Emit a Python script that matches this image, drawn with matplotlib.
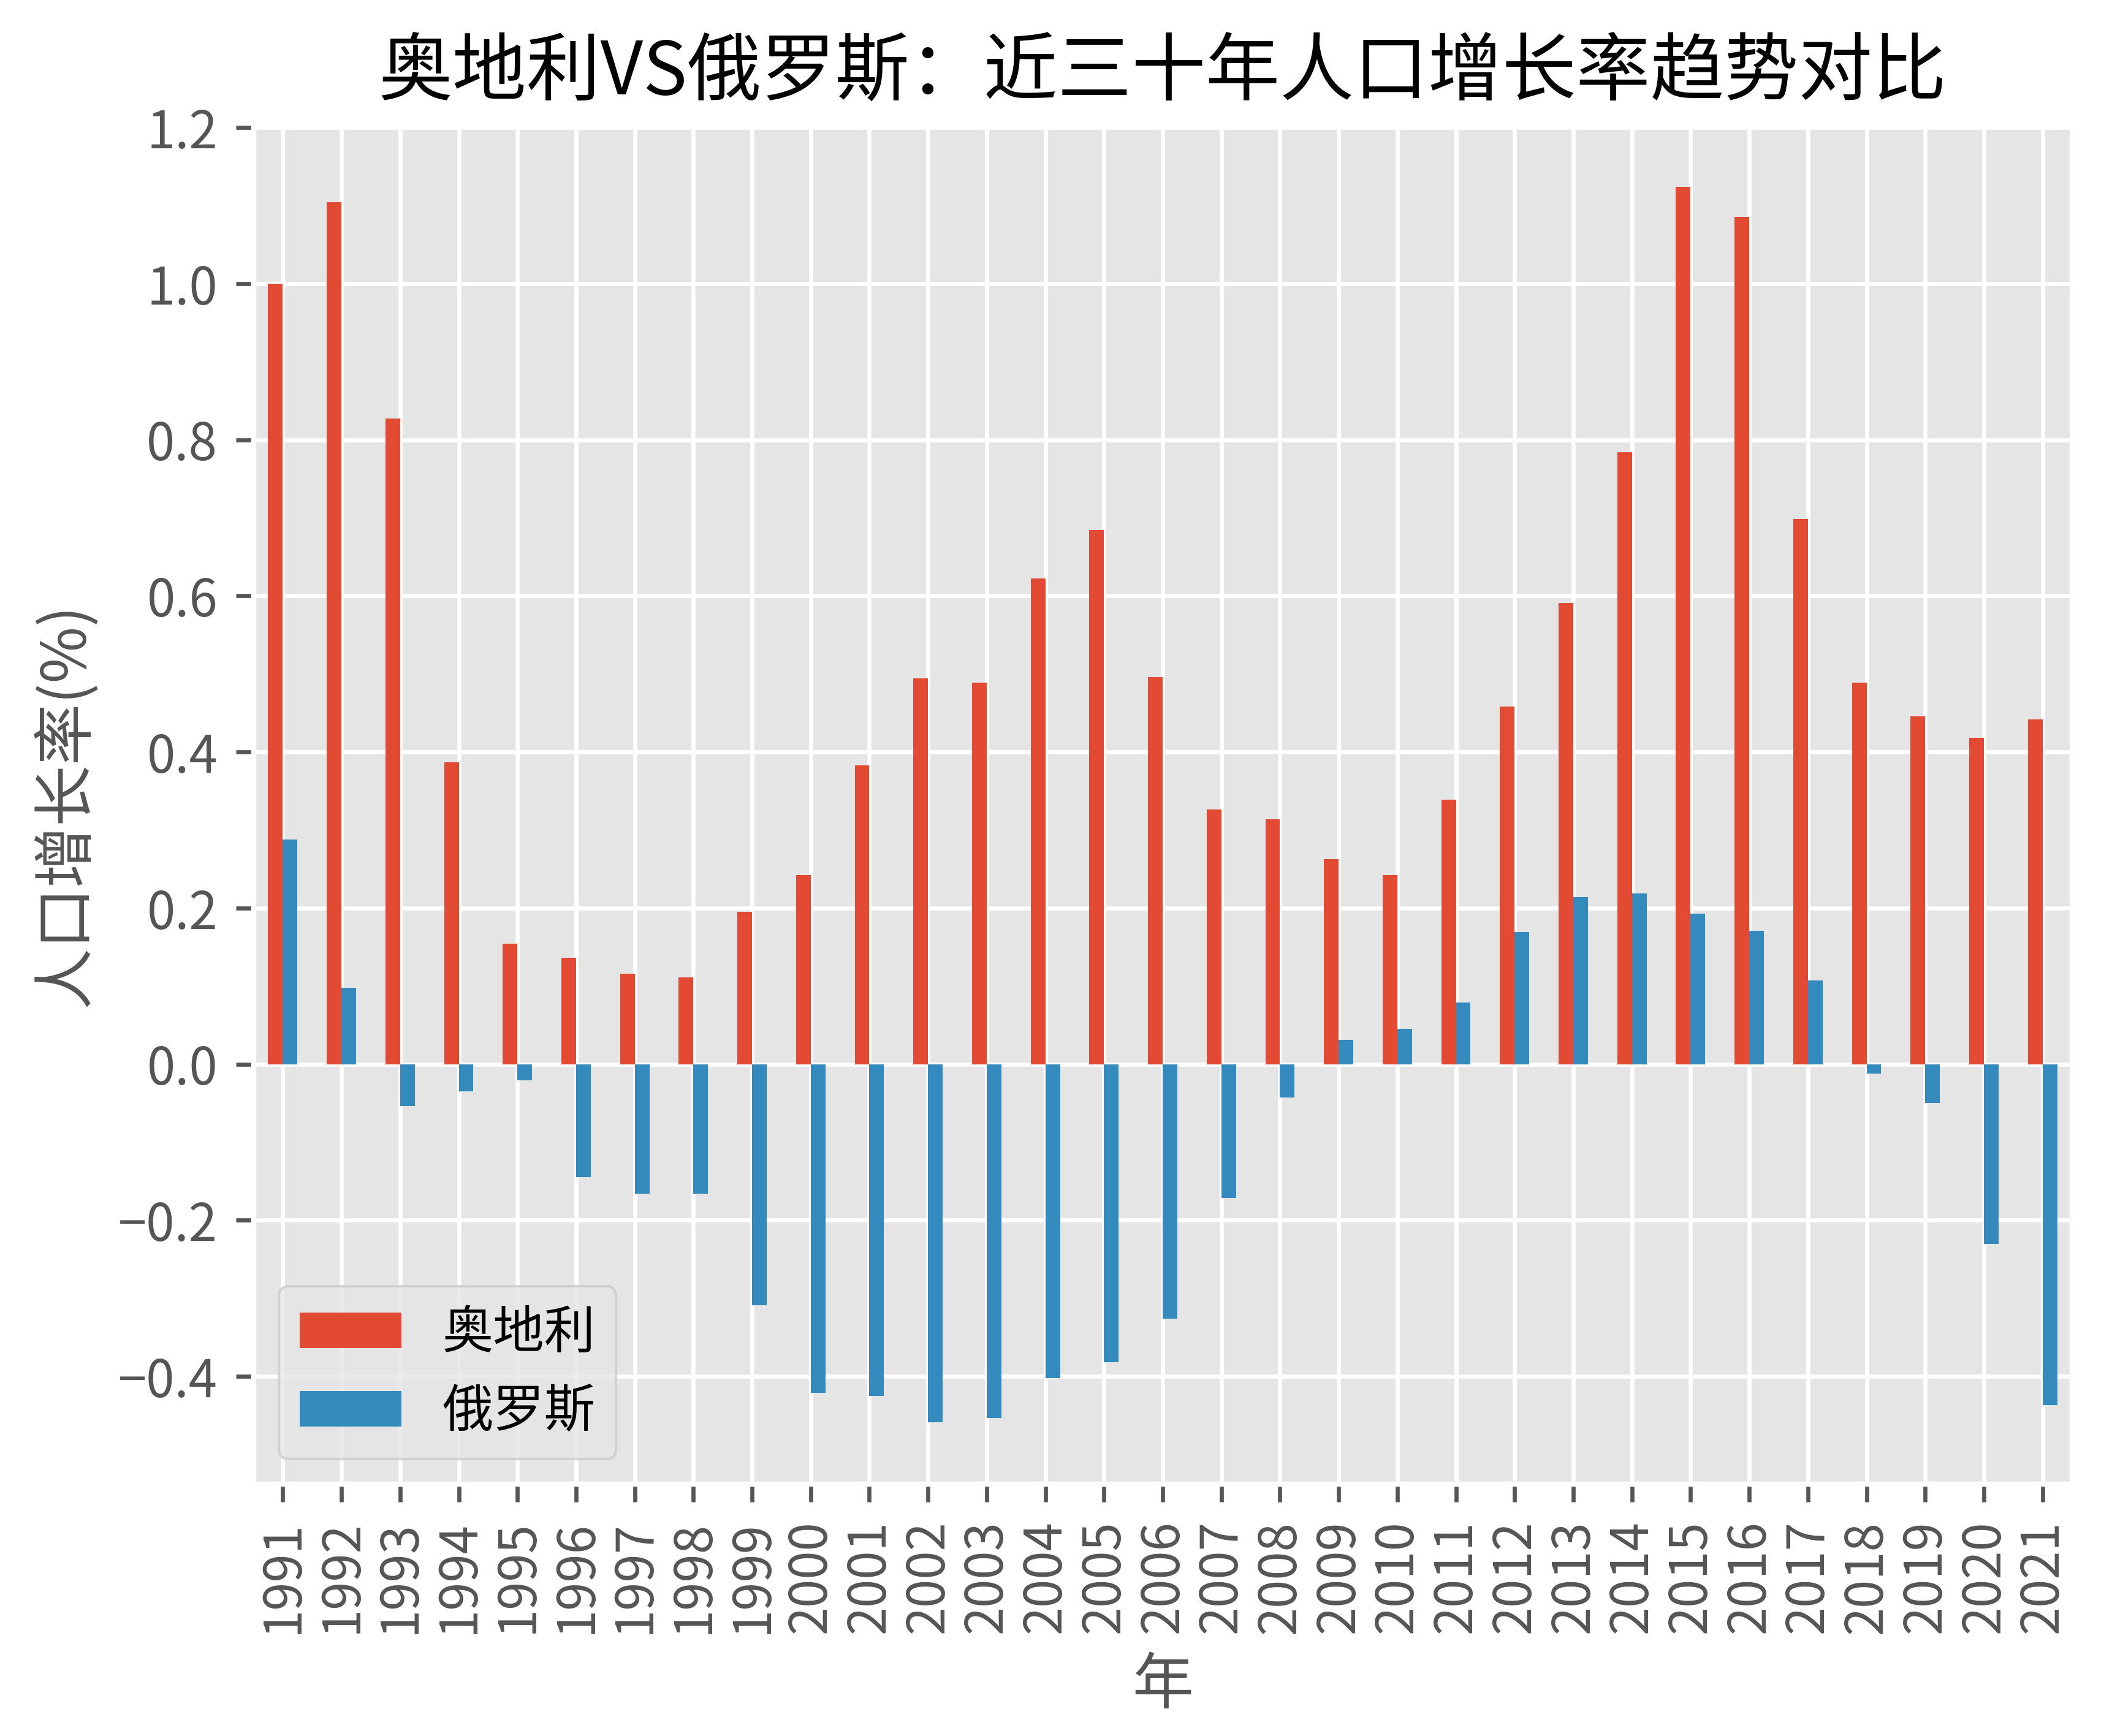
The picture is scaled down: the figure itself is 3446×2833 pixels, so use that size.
import pandas as pd
import matplotlib
matplotlib.use('Agg')
import matplotlib.pyplot as plt

plt.style.use('ggplot')
plt.rcParams['font.family'] = ['Noto Sans CJK SC', 'DejaVu Sans']

years = [str(y) for y in range(1991, 2022)]

# 人口增长率 (%)
austria = [1.000, 1.104, 0.827, 0.387, 0.154, 0.136, 0.116, 0.111, 0.195, 0.242,
           0.383, 0.494, 0.489, 0.622, 0.684, 0.496, 0.326, 0.314, 0.263, 0.242,
           0.339, 0.458, 0.591, 0.784, 1.124, 1.085, 0.698, 0.489, 0.446, 0.418,
           0.442]
russia = [0.288, 0.098, -0.054, -0.035, -0.021, -0.145, -0.166, -0.166, -0.309, -0.421,
          -0.425, -0.459, -0.453, -0.402, -0.382, -0.326, -0.171, -0.043, 0.031, 0.045,
          0.079, 0.169, 0.214, 0.219, 0.193, 0.171, 0.107, -0.012, -0.050, -0.230,
          -0.437]

df = pd.DataFrame({'奥地利': austria, '俄罗斯': russia}, index=years)

fig, ax = plt.subplots(figsize=(3446 / 600, 2833 / 600))
fig.subplots_adjust(left=0.120, right=0.981, top=0.928, bottom=0.145)

df.plot.bar(ax=ax)

ax.set_title('奥地利VS俄罗斯：近三十年人口增长率趋势对比', fontsize=14.5, color='black')
ax.set_xlabel('年', fontsize=12)
ax.set_ylabel('人口增长率(%)', fontsize=12)
ax.tick_params(axis='both', labelsize=10)
ax.legend(loc='lower left', fontsize=10)

fig.savefig('out.png', dpi=600)
